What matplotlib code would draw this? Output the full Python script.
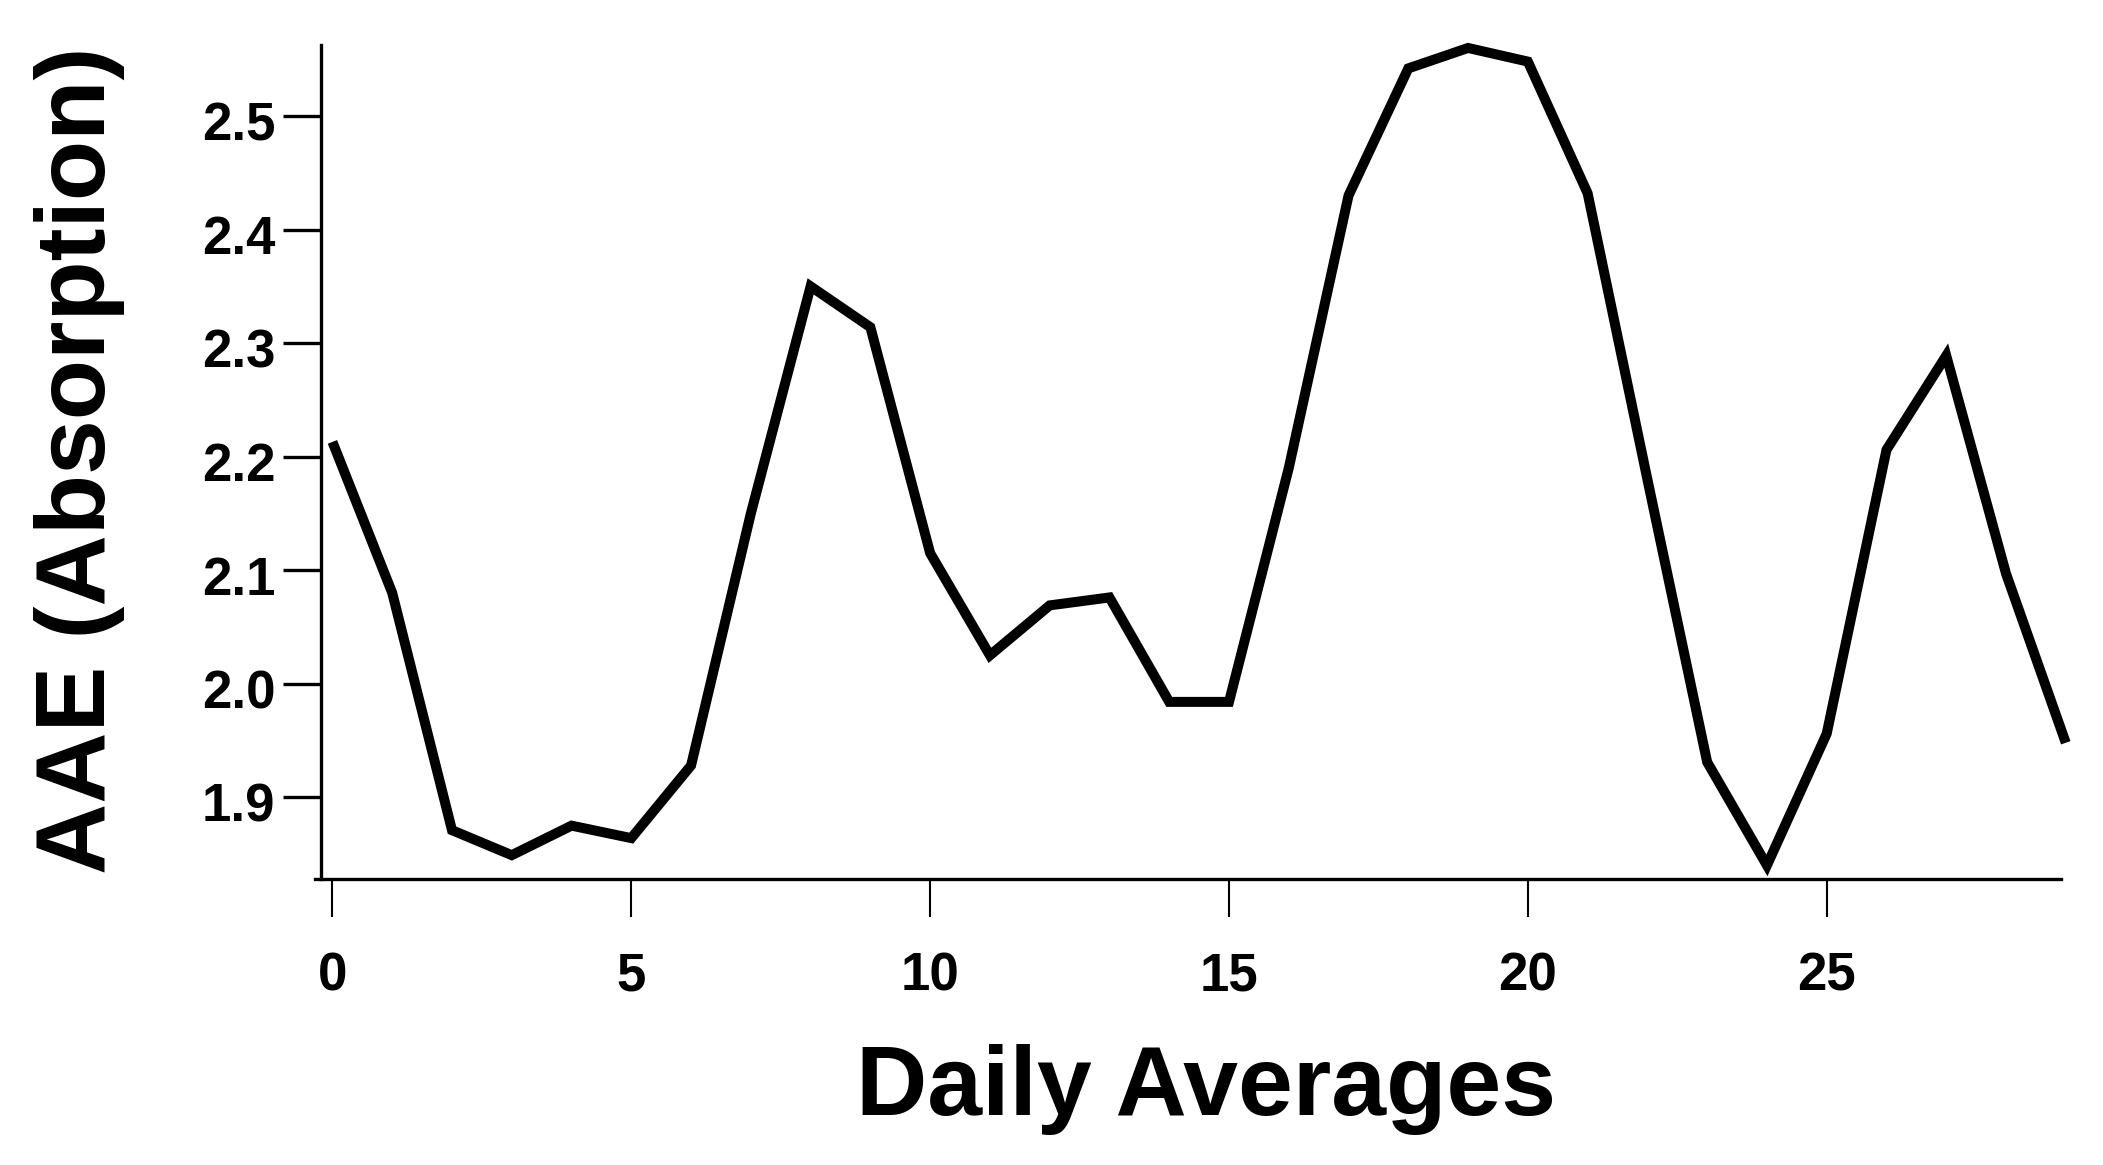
import matplotlib
matplotlib.use("Agg")
import matplotlib.pyplot as plt
import matplotlib.transforms as mtransforms

days = list(range(30))
aae = [2.213, 2.080, 1.871, 1.849, 1.875, 1.864, 1.928, 2.150, 2.350, 2.314,
       2.115, 2.025, 2.069, 2.076, 1.984, 1.984, 2.190, 2.430, 2.542, 2.560,
       2.548, 2.432, 2.180, 1.931, 1.840, 1.956, 2.206, 2.289, 2.097, 1.948]
xticks = [0, 5, 10, 15, 20, 25]
yticks = [1.9, 2.0, 2.1, 2.2, 2.3, 2.4, 2.5]
xlabel = "Daily Averages"
ylabel = "AAE (Absorption)"

plt.rcParams['font.family'] = ['Liberation Sans', 'DejaVu Sans']
plt.rcParams['font.weight'] = 'bold'

W, H = 2103, 1165
fig = plt.figure(figsize=(W / 100, H / 100), dpi=100)
ax = fig.add_axes([320.5 / W, 1 - 879 / H, (2061 - 320.5) / W, (879 - 45) / H])

ax.plot(days, aae, color='black', linewidth=7.2, solid_joinstyle='miter',
        solid_capstyle='butt', clip_on=False)

ax.set_xlim(-0.2, 28.92)
ax.set_ylim(1.828, 2.5626)

ax.spines['top'].set_visible(False)
ax.spines['right'].set_visible(False)
ax.spines['left'].set_linewidth(2.4)
ax.spines['bottom'].set_linewidth(2.4)
ax.spines['bottom'].set_bounds(-0.29, 28.92)

ax.set_xticks(xticks)
ax.set_xticklabels([str(t) for t in xticks])
ax.set_yticks(yticks)
ax.set_yticklabels([f"{t:.1f}" for t in yticks])

ax.tick_params(axis='y', direction='out', length=27.5, width=2.4, pad=5,
               labelsize=38, colors='black')
ax.tick_params(axis='x', direction='out', length=27.5, width=1.5, pad=25,
               labelsize=38, colors='black')
for lab in ax.get_xticklabels() + ax.get_yticklabels():
    lab.set_fontweight('bold')

off = mtransforms.ScaledTranslation(0, -5 / 100, fig.dpi_scale_trans)
for lab in ax.get_yticklabels():
    lab.set_transform(lab.get_transform() + off)

fig.text(80 / W, 1 - 460 / H, ylabel, rotation=90, ha='center', va='center',
         fontsize=71, fontweight='bold')
fig.text(1205.6 / W, 1 - 1115 / H, xlabel, ha='center', va='baseline',
         fontsize=71, fontweight='bold')

fig.savefig("out.png", dpi=100, facecolor='white')
